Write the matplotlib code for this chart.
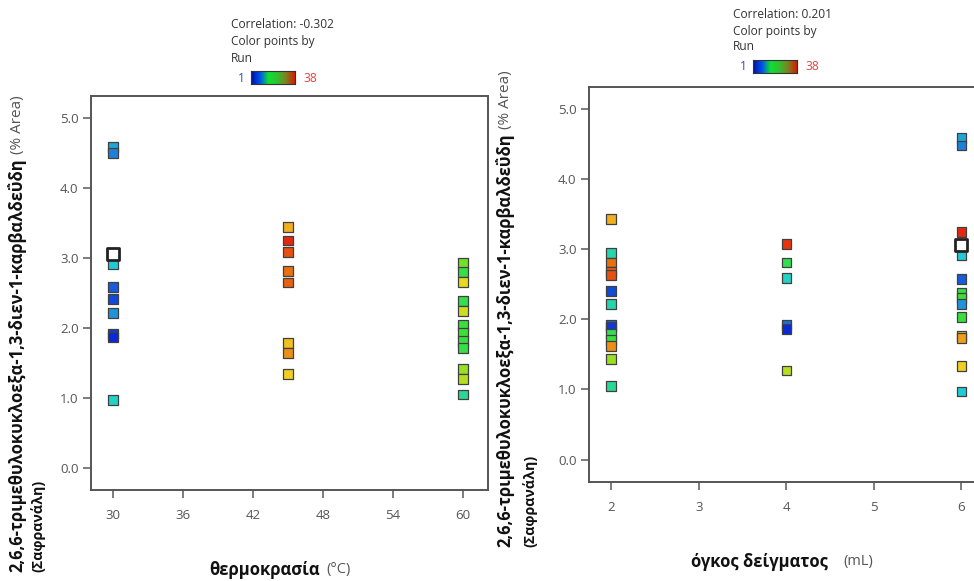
import numpy as np
import matplotlib
matplotlib.use('Agg')
import matplotlib.pyplot as plt
from matplotlib.colors import LinearSegmentedColormap

plt.rcParams['font.family'] = ['Open Sans', 'DejaVu Sans']

# ---- data ----
# left: temperature (°C)
temp_x = [30]*9 + [45]*8 + [60]*12
temp_y = [4.58, 4.50, 2.91, 2.58, 2.41, 2.22, 1.92, 1.87, 0.97,
          3.44, 3.25, 3.08, 2.81, 2.65, 1.78, 1.64, 1.34,
          2.93, 2.80, 2.66, 2.38, 2.24, 2.04, 1.93, 1.82, 1.71, 1.42, 1.27, 1.05]
temp_run = [8, 6, 10, 4, 3, 7, 2, 1, 11,
            28, 37, 34, 32, 33, 27, 30, 26,
            21, 17, 25, 16, 24, 18, 19, 18, 17, 22, 23, 13]
temp_cur = (30, 3.06)

# right: sample volume (mL)
vol_x = [2]*14 + [4]*6 + [6]*13
vol_y = [3.43, 2.95, 2.81, 2.67, 2.63, 2.41, 2.22, 1.92, 1.89, 1.79, 1.71, 1.62, 1.43, 1.05,
         3.08, 2.81, 2.59, 1.92, 1.86, 1.27,
         4.59, 4.48, 3.24, 2.92, 2.57, 2.38, 2.30, 2.22, 2.03, 1.76, 1.73, 1.34, 0.97]
vol_run = [28, 12, 32, 33, 34, 3, 12, 5, 2, 16, 18, 30, 22, 13,
           36, 16, 11, 5, 1, 23,
           8, 6, 37, 10, 4, 17, 19, 7, 18, 27, 29, 26, 10]
vol_cur = (6, 3.06)

corr_temp = -0.302
corr_vol = 0.201
yticks = [0.0, 1.0, 2.0, 3.0, 4.0, 5.0]
temp_ticks = [30, 36, 42, 48, 54, 60]
vol_ticks = [2, 3, 4, 5, 6]

ylab_bold = '2,6,6-τριμεθυλοκυκλοεξα-1,3-διεν-1-καρβαλδεΰδη'
ylab_unit = '(% Area)'
ylab_2 = '(Σαφρανάλη)'

cmap = LinearSegmentedColormap.from_list('runs', [
    (0.0, '#0a28d8'), (0.12, '#1e78d8'), (0.25, '#20d0d8'), (0.40, '#30e050'),
    (0.50, '#40e030'), (0.58, '#a8e020'), (0.66, '#f0d820'), (0.74, '#f0a820'),
    (0.84, '#e87010'), (0.92, '#e84010'), (1.0, '#e02010')])
bar_cmap = LinearSegmentedColormap.from_list('bar', ['#0010a0', '#0050f0', '#10e030', '#30c030', '#808020', '#d02000'])

W, H = 974, 581
fig = plt.figure(figsize=(W/100, H/100), dpi=100)


def px_axes(l, t, r, b):
    return fig.add_axes([l/W, 1-b/H, (r-l)/W, (b-t)/H])


def style(ax):
    for s in ax.spines.values():
        s.set_color('#555555')
        s.set_linewidth(1.4)
    ax.tick_params(axis='both', direction='out', length=6, width=1.2, color='#666666',
                   labelsize=9.5, labelcolor='#555555')
    ax.tick_params(axis='y', pad=3)
    ax.tick_params(axis='x', pad=8)
    ax.set_yticks(yticks)
    ax.set_yticklabels(['%.1f' % v for v in yticks])


def points(ax, x, y, run, cur):
    ax.scatter(x, y, c=[(r-1)/37 for r in run], cmap=cmap, vmin=0, vmax=1, marker='s',
               s=50, edgecolors='#404040', linewidths=0.9, zorder=3)
    ax.scatter([cur[0]], [cur[1]], marker='s', s=70, facecolors='white',
               edgecolors='#222222', linewidths=2, zorder=4)


ax1 = px_axes(91, 96, 488, 490)
points(ax1, temp_x, temp_y, temp_run, temp_cur)
ax1.set_xlim(28.11, 62.14)
ax1.set_ylim(-0.314, 5.314)
ax1.set_xticks(temp_ticks)
style(ax1)

ax2 = px_axes(589, 87, 990, 482)
points(ax2, vol_x, vol_y, vol_run, vol_cur)
ax2.set_xlim(1.744, 6.326)
ax2.set_ylim(-0.32, 5.314)
ax2.set_xticks(vol_ticks)
style(ax2)


def legend(x0, y0, corr):
    fs = 8.6
    fig.text(x0/W, 1-y0/H, 'Correlation: %.3f' % corr, fontsize=fs, color='#333333', va='center')
    fig.text(x0/W, 1-(y0+17)/H, 'Color points by', fontsize=fs, color='#333333', va='center')
    fig.text(x0/W, 1-(y0+33)/H, 'Run', fontsize=fs, color='#333333', va='center')
    cb = px_axes(x0+20, y0+46, x0+64, y0+59)
    cb.imshow(np.linspace(0, 1, 100)[None, :], aspect='auto', cmap=bar_cmap)
    cb.set_xticks([])
    cb.set_yticks([])
    for s in cb.spines.values():
        s.set_color('#333333')
        s.set_linewidth(0.8)
    fig.text((x0+10)/W, 1-(y0+53)/H, '1', fontsize=fs, color='#3050c0', va='center', ha='center')
    fig.text((x0+72)/W, 1-(y0+53)/H, '38', fontsize=fs, color='#e04040', va='center', ha='left')


legend(231, 25, corr_temp)
legend(733, 14, corr_vol)

fig.canvas.draw()
rend = fig.canvas.get_renderer()


def ylabel(x1, x2, ybot):
    t = fig.text(x1/W, 1-ybot/H, ylab_bold, rotation=90, fontsize=11.9, fontweight='bold',
                 color='#111111', ha='center', va='bottom')
    bb = t.get_window_extent(rend)
    fig.text(x1/W, (bb.y1+4)/H, ylab_unit, rotation=90, fontsize=11, color='#555555',
             ha='center', va='bottom')
    fig.text(x2/W, 1-ybot/H, ylab_2, rotation=90, fontsize=10.2, fontweight='bold',
             color='#111111', ha='center', va='bottom')


def xlabel(xsplit, y, bold, unit, gap):
    fig.text(xsplit/W, 1-y/H, bold, fontsize=12, fontweight='bold', color='#111111',
             ha='right', va='center')
    fig.text((xsplit+gap)/W, 1-y/H, unit, fontsize=10.5, color='#555555', ha='left', va='center')


ylabel(17, 38, 572)
ylabel(505, 530, 547)
xlabel(320, 570, 'θερμοκρασία', '(°C)', 6)
xlabel(828, 562, 'όγκος δείγματος', '(mL)', 15)

fig.savefig('out.png', dpi=100)
